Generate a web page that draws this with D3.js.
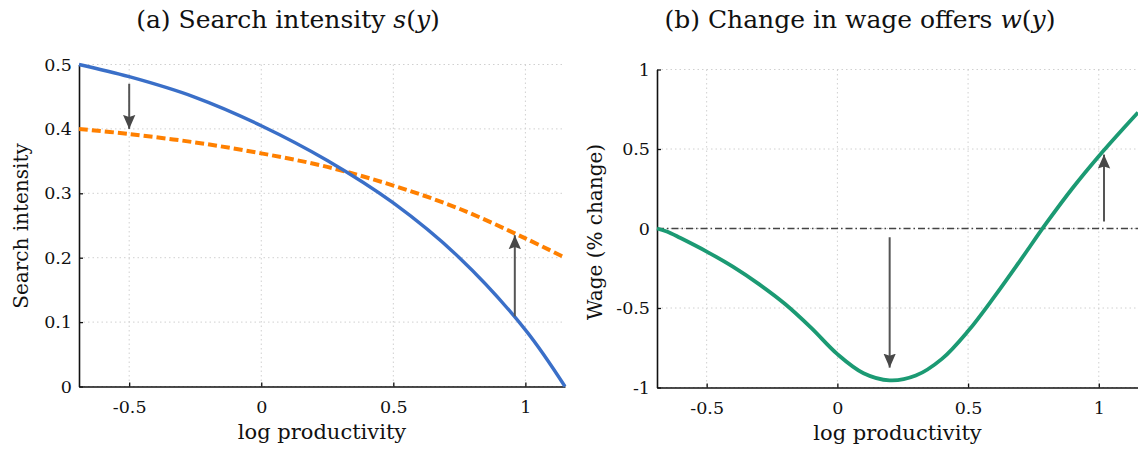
<!DOCTYPE html>
<html>
<head>
<meta charset="utf-8">
<script src="https://d3js.org/d3.v7.min.js"></script>
<style>
  body { margin: 0; background: #fff; }
  svg text { font-family: "DejaVu Serif", "Liberation Serif", serif; fill: #111; }
</style>
</head>
<body>
<div id="chart"></div>
<script>
// ---- data ----
const logProd = [-0.69, -0.5, -0.25, 0, 0.25, 0.5, 0.75, 1.0, 1.15];
const searchBefore = [0.500, 0.481, 0.449, 0.405, 0.351, 0.285, 0.200, 0.088, 0];
const searchAfter = [0.400, 0.392, 0.379, 0.362, 0.341, 0.312, 0.276, 0.230, 0.200];

const wageX = [-0.69, -0.65, -0.6, -0.5, -0.4, -0.3, -0.2, -0.1, 0, 0.1, 0.2, 0.3, 0.4, 0.5, 0.6, 0.7, 0.8, 0.9, 1.0, 1.1, 1.15];
const wageChange = [0, -0.02, -0.06, -0.145, -0.24, -0.35, -0.475, -0.625, -0.79, -0.91, -0.955, -0.925, -0.82, -0.645, -0.43, -0.20, 0.035, 0.255, 0.455, 0.64, 0.73];

const xTicks = [-0.5, 0, 0.5, 1];
const xTickLabels = ["-0.5", "0", "0.5", "1"];
const searchTicks = [0, 0.1, 0.2, 0.3, 0.4, 0.5];
const searchTickLabels = ["0", "0.1", "0.2", "0.3", "0.4", "0.5"];
const wageTicks = [-1, -0.5, 0, 0.5, 1];
const wageTickLabels = ["-1", "-0.5", "0", "0.5", "1"];

// arrows: [x, from, to]
const searchArrows = [[-0.5, 0.47, 0.40], [0.96, 0.109, 0.235]];
const wageArrows = [[0.2, -0.055, -0.875], [1.02, 0.044, 0.465]];

const W = 1138, H = 453;
const svg = d3.select("#chart").append("svg").attr("width", W).attr("height", H);

svg.append("defs").append("marker")
  .attr("id", "head")
  .attr("viewBox", "0 0 10 10")
  .attr("refX", 10).attr("refY", 5)
  .attr("markerUnits", "userSpaceOnUse")
  .attr("markerWidth", 14).attr("markerHeight", 14)
  .attr("orient", "auto")
  .append("path")
  .attr("d", "M0,0.6 L10,5 L0,9.4 L1.5,5 Z")
  .attr("fill", "#484848");

function panel(opts) {
  const g = svg.append("g");
  const x = d3.scaleLinear().domain([-0.69, 1.15]).range([opts.left, opts.right]);
  const y = d3.scaleLinear().domain(opts.yDomain).range([opts.bottom, opts.top]);

  // dotted grid
  g.selectAll(".vg").data(xTicks).enter().append("line")
    .attr("x1", d => x(d)).attr("x2", d => x(d))
    .attr("y1", opts.top).attr("y2", opts.bottom)
    .attr("stroke", "#d0d0d0").attr("stroke-width", 1).attr("stroke-dasharray", "1.5,3");
  g.selectAll(".hg").data(opts.yTicks).enter().append("line")
    .attr("x1", opts.left).attr("x2", opts.right)
    .attr("y1", d => y(d)).attr("y2", d => y(d))
    .attr("stroke", "#d0d0d0").attr("stroke-width", 1).attr("stroke-dasharray", "1.5,3");

  // axes, ticks pointing inward
  const xAxis = g.append("g").attr("transform", `translate(0,${opts.bottom})`)
    .call(d3.axisBottom(x).tickValues(xTicks).tickSizeInner(-4).tickSizeOuter(0)
      .tickFormat((d, i) => xTickLabels[i]));
  const yAxis = g.append("g").attr("transform", `translate(${opts.left},0)`)
    .call(d3.axisLeft(y).tickValues(opts.yTicks).tickSizeInner(-4).tickSizeOuter(0)
      .tickFormat((d, i) => opts.yTickLabels[i]));
  [xAxis, yAxis].forEach(ax => {
    ax.attr("font-family", null);
    ax.selectAll(".domain").attr("stroke", "#111").attr("stroke-width", 1.6);
    ax.selectAll(".tick line").attr("stroke", "#111").attr("stroke-width", 1.3);
    ax.selectAll("text").attr("font-size", 17.5).attr("fill", "#111");
  });
  xAxis.selectAll("text").attr("y", 26).attr("dy", 0);
  yAxis.selectAll("text").attr("x", -7);

  // axis labels + title
  g.append("text").attr("x", (opts.left + opts.right) / 2).attr("y", opts.bottom + 52)
    .attr("text-anchor", "middle").attr("font-size", 21).text("log productivity");
  g.append("text")
    .attr("transform", `translate(${opts.yLabelX},${opts.yLabelY}) rotate(-90)`)
    .attr("text-anchor", "middle").attr("font-size", 20).text(opts.yLabel);
  const t = g.append("text").attr("x", opts.titleX).attr("y", 28)
    .attr("text-anchor", "middle").attr("font-size", 25);
  t.append("tspan").text(opts.title);
  t.append("tspan").attr("font-style", "italic").text(opts.fn);
  t.append("tspan").text("(");
  t.append("tspan").attr("font-style", "italic").text("y");
  t.append("tspan").text(")");

  return { g, x, y };
}

const smooth = d3.line().curve(d3.curveCatmullRom.alpha(0.5));

// ---- panel (a) ----
const a = panel({
  left: 79, right: 565, top: 64.5, bottom: 386.5,
  yDomain: [0, 0.5], yTicks: searchTicks, yTickLabels: searchTickLabels,
  yLabel: "Search intensity", yLabelX: 28, yLabelY: 226,
  title: "(a) Search intensity ", fn: "s", titleX: 288
});
a.g.append("path")
  .attr("d", smooth(logProd.map((d, i) => [a.x(d), a.y(searchAfter[i])])))
  .attr("fill", "none").attr("stroke", "#ff8000").attr("stroke-width", 4)
  .attr("stroke-dasharray", "9,4");
a.g.append("path")
  .attr("d", smooth(logProd.map((d, i) => [a.x(d), a.y(searchBefore[i])])))
  .attr("fill", "none").attr("stroke", "#3a6fc8").attr("stroke-width", 3.4);
a.g.selectAll(".arrow").data(searchArrows).enter().append("line")
  .attr("x1", d => a.x(d[0])).attr("x2", d => a.x(d[0]))
  .attr("y1", d => a.y(d[1])).attr("y2", d => a.y(d[2]))
  .attr("stroke", "#555").attr("stroke-width", 2)
  .attr("marker-end", "url(#head)");

// ---- panel (b) ----
const b = panel({
  left: 657, right: 1138, top: 69.5, bottom: 387.5,
  yDomain: [-1, 1], yTicks: wageTicks, yTickLabels: wageTickLabels,
  yLabel: "Wage (% change)", yLabelX: 602, yLabelY: 232,
  title: "(b) Change in wage offers ", fn: "w", titleX: 860
});
b.g.append("line")
  .attr("x1", b.x(-0.69)).attr("x2", b.x(1.15))
  .attr("y1", b.y(0)).attr("y2", b.y(0))
  .attr("stroke", "#444").attr("stroke-width", 1.6)
  .attr("stroke-dasharray", "7,3,1.5,3");
b.g.append("path")
  .attr("d", smooth(wageX.map((d, i) => [b.x(d), b.y(wageChange[i])])))
  .attr("fill", "none").attr("stroke", "#1b9a73").attr("stroke-width", 3.8);
b.g.selectAll(".arrow").data(wageArrows).enter().append("line")
  .attr("x1", d => b.x(d[0])).attr("x2", d => b.x(d[0]))
  .attr("y1", d => b.y(d[1])).attr("y2", d => b.y(d[2]))
  .attr("stroke", "#555").attr("stroke-width", 2)
  .attr("marker-end", "url(#head)");
</script>
</body>
</html>
